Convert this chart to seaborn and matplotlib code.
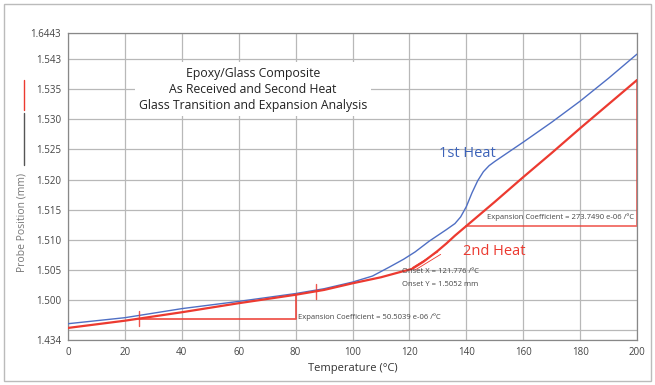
import matplotlib
matplotlib.use("Agg")
import matplotlib.pyplot as plt
import seaborn as sns
import pandas as pd
import numpy as np
from matplotlib.lines import Line2D
from matplotlib.patches import Rectangle

# ---- data ----
temp_1st = [0, 20, 40, 60, 80, 90, 100, 107, 113, 118, 122, 127, 133, 136, 138, 140,
            142, 144, 146, 148, 150, 160, 170, 180, 190, 200]
pos_1st = [1.4961, 1.4971, 1.4986, 1.4998, 1.5011, 1.5019, 1.5030, 1.5040, 1.5055, 1.5068,
           1.5080, 1.5098, 1.5117, 1.5127, 1.5138, 1.5155, 1.5178, 1.5198, 1.5213, 1.5223,
           1.5230, 1.5262, 1.5295, 1.5330, 1.5368, 1.5408]
temp_2nd = [0, 20, 40, 60, 80, 90, 100, 110, 117, 121, 125, 130, 133, 136, 140, 150, 160,
            170, 180, 190, 200]
pos_2nd = [1.4954, 1.4966, 1.4980, 1.4995, 1.5009, 1.5017, 1.5028, 1.5038, 1.5047, 1.5052,
           1.5064, 1.5082, 1.5094, 1.5107, 1.5123, 1.5163, 1.5204, 1.5244, 1.5285, 1.5325,
           1.5365]

x_ticks = [0, 20, 40, 60, 80, 100, 120, 140, 160, 180, 200]
y_tick_vals = [1.4934, 1.500, 1.505, 1.510, 1.515, 1.520, 1.525, 1.530, 1.535, 1.540, 1.5443]
y_tick_labels = ["1.434", "1.500", "1.505", "1.510", "1.515", "1.520", "1.525",
                 "1.530", "1.535", "1.543", "1.6443"]

title_lines = ["Epoxy/Glass Composite", "As Received and Second Heat",
               "Glass Transition and Expansion Analysis"]
coef1_text = "Expansion Coefficient = 50.5039 e-06 /ºC"
coef2_text = "Expansion Coefficient = 273.7490 e-06 /ºC"
onset_x_text = "Onset X = 121.776 /ºC"
onset_y_text = "Onset Y = 1.5052 mm"

# triangle (tangent) anchors
tri1_t = [25, 80]
tri2_t = [140, 200]
tick_t = [25, 87]

sns.set_theme(style="white")
plt.rcParams["font.family"] = ["Open Sans", "DejaVu Sans"]

fig = plt.figure(figsize=(6.55, 3.85), dpi=100)
ax = fig.add_axes([68 / 655, 45 / 385, (637 - 68) / 655, (340 - 33) / 385])

df1 = pd.DataFrame({"T": temp_1st, "P": pos_1st})
df2 = pd.DataFrame({"T": temp_2nd, "P": pos_2nd})


def interp(t, xs, ys):
    return float(np.interp(t, xs, ys))


blue = "#4f6fc4"
red = "#ec3a30"

sns.lineplot(data=df1, x="T", y="P", ax=ax, color=blue, lw=1.0, zorder=3)
sns.lineplot(data=df2, x="T", y="P", ax=ax, color=red, lw=1.6, zorder=4)

# tangent triangles
p_a = interp(tri1_t[0], temp_2nd, pos_2nd)
p_b = interp(tri1_t[1], temp_2nd, pos_2nd)
ax.plot([tri1_t[0], tri1_t[1], tri1_t[1]], [p_a, p_a, p_b], color=red, lw=1.3, alpha=0.85, zorder=2)
p_c = interp(tri2_t[0], temp_2nd, pos_2nd)
p_d = interp(tri2_t[1], temp_2nd, pos_2nd)
ax.plot([tri2_t[0], tri2_t[1], tri2_t[1]], [p_c, p_c, p_d], color=red, lw=1.3, alpha=0.75, zorder=2)
for t in tick_t:
    p = interp(t, temp_2nd, pos_2nd)
    ax.plot([t, t], [p - 0.0013, p + 0.0012], color=red, lw=1.0, alpha=0.85, zorder=4)

# onset marker (small hatched tangent)
ax.plot([121, 130], [1.5054, 1.5080], color=red, lw=0.6, zorder=5)
ax.plot([122, 131], [1.5050, 1.5076], color=red, lw=0.6, zorder=5)

# axes formatting
ax.set_xlim(0, 200)
ax.set_ylim(y_tick_vals[0], y_tick_vals[-1])
ax.set_xticks(x_ticks)
ax.set_xticklabels([str(v) for v in x_ticks])
ax.set_yticks(y_tick_vals)
ax.set_yticklabels(y_tick_labels)
ax.set_yticks([1.495], minor=True)
ax.grid(True, which="both", color="#b8b8b8", lw=0.9)
ax.set_axisbelow(True)
for s in ax.spines.values():
    s.set_color("#888888")
    s.set_linewidth(0.9)
ax.tick_params(axis="both", which="major", labelsize=7, colors="#444444",
               length=3, width=0.8, pad=2, direction="out")
ax.tick_params(axis="both", which="major", color="#777777")
ax.tick_params(axis="y", which="minor", length=0)
ax.set_xlabel("Temperature (°C)", fontsize=8, color="#333333", labelpad=4)
ax.set_ylabel("")

# title box
ax.text(65, 1.5350, "\n".join(title_lines), ha="center", va="center", fontsize=8.8,
        color="#222222", linespacing=1.3, zorder=6,
        bbox=dict(facecolor="white", edgecolor="none", pad=3))

# series labels
ax.text(130.5, 1.5243, "1st Heat", color="#3c62b8", fontsize=10.5, ha="left", va="center", zorder=6)
ax.text(139, 1.5081, "2nd Heat", color=red, fontsize=10.5, ha="left", va="center", zorder=6)

# annotations
ax.text(80.8, 1.4972, coef1_text, fontsize=5.5, color="#444444", ha="left", va="center", zorder=6)
ax.text(199, 1.5138, coef2_text, fontsize=5.5, color="#444444", ha="right", va="center", zorder=6)
ax.text(117.5, 1.5048, onset_x_text, fontsize=5.5, color="#444444", ha="left", va="center", zorder=6)
ax.text(117.5, 1.5026, onset_y_text, fontsize=5.5, color="#444444", ha="left", va="center", zorder=6)

# y label & legend markers
fig.text(22 / 655, 1 - 222 / 385, "Probe Position (mm)", rotation=90, ha="center", va="center",
         fontsize=7.5, color="#777777")
fig.add_artist(Line2D([24 / 655, 24 / 655], [1 - 80 / 385, 1 - 110 / 385], color=red, lw=1.0))
fig.add_artist(Line2D([24 / 655, 24 / 655], [1 - 113 / 385, 1 - 165 / 385], color="#555555", lw=1.0))

# outer frame
fig.add_artist(Rectangle((4 / 655, 4 / 385), 647 / 655, 377 / 385, transform=fig.transFigure,
                         fill=False, edgecolor="#bbbbbb", lw=1.0))

fig.savefig("out.png", dpi=100)
